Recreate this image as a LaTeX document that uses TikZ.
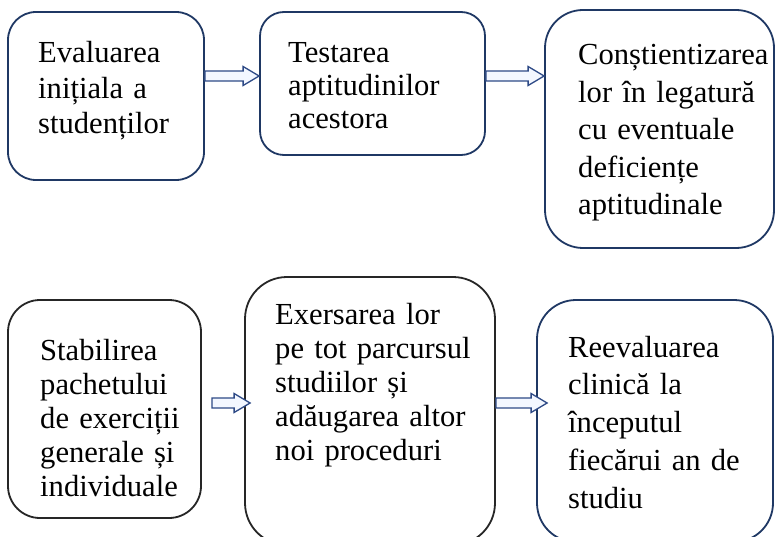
\documentclass[tikz,border=0pt]{standalone}
\usepackage{fontspec}
\setmainfont{Liberation Serif}
\usetikzlibrary{calc}
\definecolor{navy}{HTML}{1F3864}
\definecolor{arrowline}{HTML}{2E4A86}
\definecolor{arrowfill}{HTML}{F3F7FF}
\tikzset{
  box/.style={draw=navy, line width=1.8pt, rounded corners=#1, inner sep=0pt},
  blackbox/.style={box=#1, draw=black!85},
  txt/.style={anchor=base west, align=left, inner sep=0pt, text width=240pt,
    font=\fontsize{30.6}{#1}\selectfont},
  barrow/.style={draw=arrowline, fill=arrowfill, line width=1.3pt, line join=miter}
}
\newcommand\blockarrow[2]{%
  \draw[barrow] let \p1=(#1), \p2=(#2) in
    (\x1,\y1+5pt) -- (\x2-16pt,\y1+5pt) -- (\x2-16pt,\y1+9.5pt) -- (\x2,\y1)
    -- (\x2-16pt,\y1-9.5pt) -- (\x2-16pt,\y1-5pt) -- (\x1,\y1-5pt) -- cycle;}
\begin{document}
\begin{tikzpicture}[x=1pt,y=-1pt]
\useasboundingbox (0,0) rectangle (778,537);
\fill[white] (0,0) rectangle (778,537);
% boxes
\node[box=28, minimum width=196pt, minimum height=168pt] (b1) at (106,96) {};
\node[box=24, minimum width=225pt, minimum height=143pt] (b2) at (372.5,83.5) {};
\node[box=38, minimum width=229pt, minimum height=238pt] (b3) at (659.5,129) {};
\node[blackbox=32, minimum width=193pt, minimum height=218pt] (b4) at (104.5,409) {};
\node[blackbox=42, minimum width=250pt, minimum height=268pt] (b5) at (370,411) {};
\node[box=39, minimum width=236pt, minimum height=242pt] (b6) at (655,421) {};
% texts
\node[txt=35.5] (t1) at (38,63) {Evaluarea\\ inițiala a\\ studenților};
\node[txt=33] (t2) at (288,63) {Testarea\\ aptitudinilor\\ acestora};
\node[txt=37.5] (t3) at (578,65) {Conștientizarea\\ lor în legatură\\ cu eventuale\\ deficiențe\\ aptitudinale};
\node[txt=34.2] (t4) at (40,360) {Stabilirea\\ pachetului\\ de exerciții\\ generale și\\ individuale};
\node[txt=34] (t5) at (275,324) {Exersarea lor\\ pe tot parcursul\\ studiilor și\\ adăugarea altor\\ noi proceduri};
\node[txt=37.8] (t6) at (568,357) {Reevaluarea\\ clinică la\\ începutul\\ fiecărui an de\\ studiu};
% connectors
\coordinate (s1) at ([yshift=20pt]b1.east);
\coordinate (e1) at (b2.west |- s1);
\coordinate (s2) at ([yshift=7.5pt]b2.east);
\coordinate (e2) at (b3.west |- s2);
\coordinate (s3) at ([xshift=10pt,yshift=6pt]b4.east);
\coordinate (e3) at ([xshift=6pt]b5.west |- s3);
\coordinate (s4) at ([yshift=8pt]b5.east);
\coordinate (e4) at ([xshift=11pt]b6.west |- s4);
\blockarrow{s1}{e1}
\blockarrow{s2}{e2}
\blockarrow{s3}{e3}
\blockarrow{s4}{e4}
\end{tikzpicture}
\end{document}
